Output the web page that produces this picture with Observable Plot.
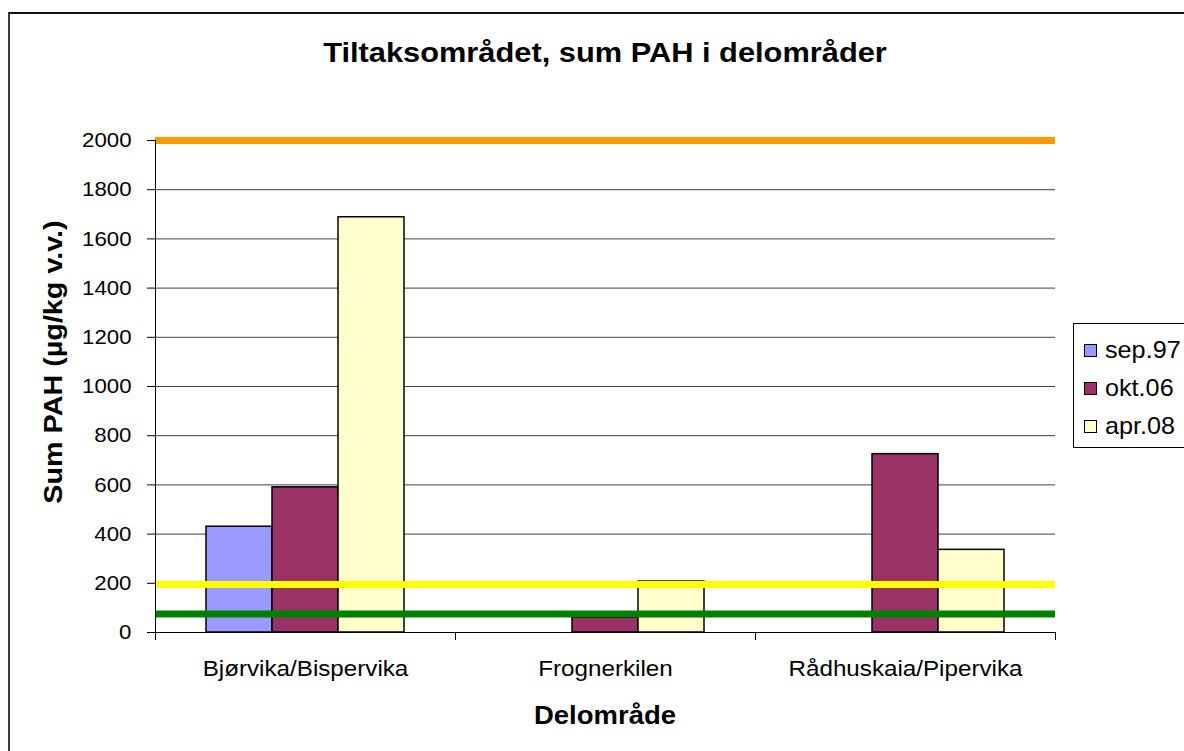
<!DOCTYPE html>
<html>
<head>
<meta charset="utf-8">
<script src="https://cdn.jsdelivr.net/npm/d3@7"></script>
<script src="https://cdn.jsdelivr.net/npm/@observablehq/plot@0.6"></script>
<style>
  html, body { margin: 0; padding: 0; background: #fff; }
  #wrap { position: relative; width: 1184px; height: 751px; overflow: hidden; background: #fff;
          font-family: 'Liberation Sans', Arial, sans-serif; color: #000; }
  #border { position: absolute; left: 8px; top: 12px; width: 1300px; height: 900px;
            border-left: 2px solid #3a3a3a; border-top: 2px solid #111; }
  #chart { position: absolute; left: 0; top: 0; }
  .txt { position: absolute; white-space: nowrap; line-height: 1; }
  #title { left: 605px; top: 39px; font-size: 28px; font-weight: bold; transform: translateX(-50%) scaleX(1.1); }
  #ylabel { left: 53px; top: 362px; font-size: 25px; font-weight: bold; transform: translate(-50%, -50%) rotate(-90deg) scaleX(1.15); }
  #xlabel { left: 605px; top: 703px; font-size: 25px; font-weight: bold; transform: translateX(-50%) scaleX(1.1); }
  #legend { position: absolute; left: 1073px; top: 323px; width: 140px; height: 123px; border: 1px solid #000; background: #fff; }
  .item { position: absolute; left: 10px; height: 24px; display: flex; align-items: center; }
  .sw { width: 11px; height: 11px; border: 1px solid #000; margin-right: 8px; }
  .lab { font-size: 24px; line-height: 1; transform: scaleX(1.05); transform-origin: left center; }
</style>
</head>
<body>
<div id="wrap">
  <div id="border"></div>
  <div id="chart"></div>
  <div class="txt" id="title"></div>
  <div class="txt" id="ylabel"></div>
  <div class="txt" id="xlabel"></div>
  <div id="legend"></div>
</div>
<script>
// ---- data ----
const titleText = "Tiltaksområdet, sum PAH i delområder";
const yLabelText = "Sum PAH (µg/kg v.v.)";
const xLabelText = "Delområde";
const categories = ["Bjørvika/Bispervika", "Frognerkilen", "Rådhuskaia/Pipervika"];
const series = ["sep.97", "okt.06", "apr.08"];
const sep97 = [430, null, null];
const okt06 = [590, 60, 725];
const apr08 = [1688, 207, 336];
const seriesColors = ["#9999FF", "#993366", "#FFFFCC"];
const limitValues = [2000, 195, 75];
const limitColors = ["#FF9900", "#FFFF00", "#008000"];
const yTicks = [0, 200, 400, 600, 800, 1000, 1200, 1400, 1600, 1800, 2000];

// ---- table ----
const valuesBySeries = [sep97, okt06, apr08];
const table = [];
series.forEach((s, si) => {
  categories.forEach((c, ci) => {
    const v = valuesBySeries[si][ci];
    if (v != null) table.push({cat: c, series: s, value: v});
  });
});

const W = 1184, H = 751, mL = 155, mR = 129, mT = 140, mB = 119;

const chart = Plot.plot({
  width: W, height: H,
  marginLeft: mL, marginRight: mR, marginTop: mT, marginBottom: mB,
  style: {fontFamily: "'Liberation Sans', Arial, sans-serif", fontSize: "21px", color: "#000", background: "transparent", overflow: "visible"},
  fx: {domain: categories, padding: 0, axis: "bottom", tickSize: 0, tickPadding: 28, label: null},
  x: {domain: series, paddingInner: 0, paddingOuter: 0.75, axis: null},
  y: {domain: [0, 2000], ticks: yTicks, tickSize: 8, tickPadding: 16, label: null, tickFormat: d => String(d)},
  color: {domain: series, range: seriesColors},
  marks: [
    Plot.ruleY(yTicks.slice(1), {stroke: "#000", strokeOpacity: 0.75}),
    Plot.barY(table, {fx: "cat", x: "series", y: "value", fill: "series", stroke: "#000", strokeWidth: 1.5}),
    Plot.ruleY([0], {stroke: "#000", strokeWidth: 1}),
    ...limitValues.map((v, i) => Plot.ruleY([v], {stroke: limitColors[i], strokeWidth: 7}))
  ]
});
document.getElementById("chart").appendChild(chart);

const svg = chart.tagName.toLowerCase() === "svg" ? chart : chart.querySelector("svg");

// tick label sizes, widened slightly around their anchor
d3.select(svg).selectAll("text").each(function () {
  const isNum = /^\d+$/.test(this.textContent.trim());
  this.style.fontSize = isNum ? "21px" : "22px";
  const t = this.getAttribute("transform") || "";
  const ax = parseFloat(this.getAttribute("x")) || 0;
  const s = isNum ? 1.06 : 1.1;
  this.setAttribute("transform", `${t} translate(${ax},0) scale(${s},1) translate(${-ax},0)`);
});

// y axis line and category boundary ticks from the plot's scales
try {
  const ys = chart.scale("y");
  const fxs = chart.scale("fx");
  const y0 = ys.apply(0), y1 = ys.apply(2000);
  const g = d3.select(svg).append("g").attr("stroke", "#000").attr("stroke-width", 1);
  g.append("line").attr("x1", mL + 0.5).attr("x2", mL + 0.5).attr("y1", y1).attr("y2", y0);
  if (fxs && fxs.apply) {
    const bounds = categories.map(c => fxs.apply(c));
    bounds.push(fxs.apply(categories[categories.length - 1]) + fxs.bandwidth);
    bounds.forEach(b => {
      g.append("line").attr("x1", b + 0.5).attr("x2", b + 0.5).attr("y1", y0).attr("y2", y0 + 8);
    });
  }
} catch (e) { console.log(e); }

// texts
document.getElementById("title").textContent = titleText;
document.getElementById("ylabel").textContent = yLabelText;
document.getElementById("xlabel").textContent = xLabelText;

// legend
const legend = document.getElementById("legend");
const legendCenters = [26, 64, 102];
series.forEach((s, i) => {
  const it = document.createElement("div");
  it.className = "item";
  it.style.top = (legendCenters[i] - 12) + "px";
  const sw = document.createElement("div");
  sw.className = "sw";
  sw.style.background = seriesColors[i];
  const lab = document.createElement("div");
  lab.className = "lab";
  lab.textContent = s;
  it.appendChild(sw); it.appendChild(lab);
  legend.appendChild(it);
});
</script>
</body>
</html>
